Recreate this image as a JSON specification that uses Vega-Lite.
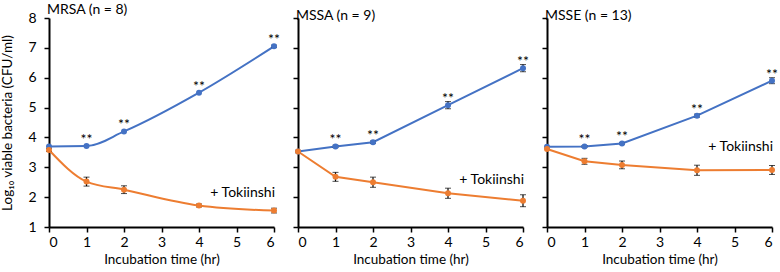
{
  "$schema": "https://vega.github.io/schema/vega-lite/v6.json",
  "padding": {"left": 0, "top": 3, "right": 2, "bottom": 1},
  "spacing": 24,
  "bounds": "flush",
  "config": {
    "font": "Lato",
    "view": {"stroke": null},
    "axis": {
      "grid": false,
      "domainColor": "black",
      "domainWidth": 2,
      "tickColor": "black",
      "tickWidth": 1.5,
      "tickSize": 5,
      "labelColor": "black",
      "labelFontSize": 14,
      "labelFont": "Lato",
      "titleColor": "black",
      "titleFontSize": 13.5,
      "titleFontWeight": "normal",
      "titleFont": "Lato"
    },
    "title": {"anchor": "start", "frame": "group", "fontSize": 14, "fontWeight": "normal", "font": "Lato", "color": "black", "offset": 2, "dy": 8, "dx": -2}
  },
  "data": {
    "values": [
      {"strain": "MRSA", "kind": "series", "group": "Control", "time": 0, "value": 3.7, "err": 0, "sig": ""},
      {"strain": "MRSA", "kind": "series", "group": "Control", "time": 1, "value": 3.71, "err": 0, "sig": "**"},
      {"strain": "MRSA", "kind": "series", "group": "Control", "time": 2, "value": 4.2, "err": 0, "sig": "**"},
      {"strain": "MRSA", "kind": "series", "group": "Control", "time": 4, "value": 5.5, "err": 0, "sig": "**"},
      {"strain": "MRSA", "kind": "series", "group": "Control", "time": 6, "value": 7.05, "err": 0.04, "sig": "**"},
      {"strain": "MRSA", "kind": "series", "group": "Tokiinshi", "time": 0, "value": 3.58, "err": 0.05, "sig": ""},
      {"strain": "MRSA", "kind": "series", "group": "Tokiinshi", "time": 1, "value": 2.52, "err": 0.15, "sig": ""},
      {"strain": "MRSA", "kind": "series", "group": "Tokiinshi", "time": 2, "value": 2.25, "err": 0.13, "sig": ""},
      {"strain": "MRSA", "kind": "series", "group": "Tokiinshi", "time": 4, "value": 1.72, "err": 0.05, "sig": ""},
      {"strain": "MRSA", "kind": "series", "group": "Tokiinshi", "time": 6, "value": 1.55, "err": 0.08, "sig": ""},
      {"strain": "MRSA", "kind": "label", "group": "Tokiinshi", "time": 6, "value": 2.13, "err": 0, "sig": "", "text": "+ Tokiinshi"},

      {"strain": "MSSA", "kind": "series", "group": "Control", "time": 0, "value": 3.53, "err": 0, "sig": ""},
      {"strain": "MSSA", "kind": "series", "group": "Control", "time": 1, "value": 3.7, "err": 0.04, "sig": "**"},
      {"strain": "MSSA", "kind": "series", "group": "Control", "time": 2, "value": 3.84, "err": 0.04, "sig": "**"},
      {"strain": "MSSA", "kind": "series", "group": "Control", "time": 4, "value": 5.08, "err": 0.12, "sig": "**"},
      {"strain": "MSSA", "kind": "series", "group": "Control", "time": 6, "value": 6.32, "err": 0.12, "sig": "**"},
      {"strain": "MSSA", "kind": "series", "group": "Tokiinshi", "time": 0, "value": 3.53, "err": 0, "sig": ""},
      {"strain": "MSSA", "kind": "series", "group": "Tokiinshi", "time": 1, "value": 2.68, "err": 0.15, "sig": ""},
      {"strain": "MSSA", "kind": "series", "group": "Tokiinshi", "time": 2, "value": 2.5, "err": 0.17, "sig": ""},
      {"strain": "MSSA", "kind": "series", "group": "Tokiinshi", "time": 4, "value": 2.13, "err": 0.17, "sig": ""},
      {"strain": "MSSA", "kind": "series", "group": "Tokiinshi", "time": 6, "value": 1.88, "err": 0.2, "sig": ""},
      {"strain": "MSSA", "kind": "label", "group": "Tokiinshi", "time": 6, "value": 2.57, "err": 0, "sig": "", "text": "+ Tokiinshi"},

      {"strain": "MSSE", "kind": "series", "group": "Control", "time": 0, "value": 3.69, "err": 0, "sig": ""},
      {"strain": "MSSE", "kind": "series", "group": "Control", "time": 1, "value": 3.7, "err": 0.03, "sig": "**"},
      {"strain": "MSSE", "kind": "series", "group": "Control", "time": 2, "value": 3.8, "err": 0.03, "sig": "**"},
      {"strain": "MSSE", "kind": "series", "group": "Control", "time": 4, "value": 4.73, "err": 0.05, "sig": "**"},
      {"strain": "MSSE", "kind": "series", "group": "Control", "time": 6, "value": 5.9, "err": 0.1, "sig": "**"},
      {"strain": "MSSE", "kind": "series", "group": "Tokiinshi", "time": 0, "value": 3.61, "err": 0, "sig": ""},
      {"strain": "MSSE", "kind": "series", "group": "Tokiinshi", "time": 1, "value": 3.2, "err": 0.1, "sig": ""},
      {"strain": "MSSE", "kind": "series", "group": "Tokiinshi", "time": 2, "value": 3.08, "err": 0.13, "sig": ""},
      {"strain": "MSSE", "kind": "series", "group": "Tokiinshi", "time": 4, "value": 2.9, "err": 0.17, "sig": ""},
      {"strain": "MSSE", "kind": "series", "group": "Tokiinshi", "time": 6, "value": 2.91, "err": 0.15, "sig": ""},
      {"strain": "MSSE", "kind": "label", "group": "Tokiinshi", "time": 6, "value": 3.68, "err": 0, "sig": "", "text": "+ Tokiinshi"}
    ]
  },
  "hconcat": [
    {
      "title": "MRSA (n = 8)",
      "width": 225, "height": 209,
      "transform": [{"filter": "datum.strain === 'MRSA'"}],
      "encoding": {
        "x": {"field": "time", "type": "quantitative", "scale": {"domain": [0, 6], "nice": false}, "axis": {"values": [0,1,2,3,4,5,6], "title": "Incubation time (hr)", "titlePadding": 3, "labelPadding": 3}},
        "y": {"field": "value", "type": "quantitative", "scale": {"domain": [1, 8], "nice": false, "zero": false}, "axis": {"values": [1,2,3,4,5,6,7,8], "title": "Log₁₀ viable bacteria (CFU/ml)", "titlePadding": 13, "labelPadding": 8}}
      },
      "layer": [
        {"transform": [{"filter": "datum.kind === 'series'"}], "mark": {"type": "line", "strokeWidth": 2, "interpolate": "monotone"}, "encoding": {"color": {"field": "group", "type": "nominal", "scale": {"domain": ["Control", "Tokiinshi"], "range": ["#4472C4", "#ED7D31"]}, "legend": null}}},
        {"transform": [{"filter": "datum.kind === 'series' && datum.err > 0"}], "mark": {"type": "errorbar", "ticks": {"size": 6, "color": "black"}, "rule": {"color": "black", "strokeWidth": 1.2}, "color": "black"}, "encoding": {"yError": {"field": "err"}}},
        {"transform": [{"filter": "datum.kind === 'series'"}], "mark": {"type": "circle", "size": 36, "opacity": 1}, "encoding": {"color": {"field": "group", "type": "nominal", "scale": {"domain": ["Control", "Tokiinshi"], "range": ["#4472C4", "#ED7D31"]}, "legend": null}}},
        {"transform": [{"filter": "datum.kind === 'series' && datum.sig !== ''"}], "mark": {"type": "text", "baseline": "alphabetic", "dy": -2, "fontSize": 14, "color": "black"}, "encoding": {"text": {"field": "sig"}}},
        {"transform": [{"filter": "datum.kind === 'label'"}], "mark": {"type": "text", "align": "right", "baseline": "middle", "fontSize": 14, "color": "black", "dx": 1}, "encoding": {"text": {"field": "text"}}}
      ]
    },
    {
      "title": "MSSA (n = 9)",
      "width": 225, "height": 209,
      "transform": [{"filter": "datum.strain === 'MSSA'"}],
      "encoding": {
        "x": {"field": "time", "type": "quantitative", "scale": {"domain": [0, 6], "nice": false}, "axis": {"values": [0,1,2,3,4,5,6], "title": "Incubation time (hr)", "titlePadding": 3, "labelPadding": 3}},
        "y": {"field": "value", "type": "quantitative", "scale": {"domain": [1, 8], "nice": false, "zero": false}, "axis": {"values": [1,2,3,4,5,6,7,8], "title": null, "labels": false}}
      },
      "layer": [
        {"transform": [{"filter": "datum.kind === 'series'"}], "mark": {"type": "line", "strokeWidth": 2}, "encoding": {"color": {"field": "group", "type": "nominal", "scale": {"domain": ["Control", "Tokiinshi"], "range": ["#4472C4", "#ED7D31"]}, "legend": null}}},
        {"transform": [{"filter": "datum.kind === 'series' && datum.err > 0"}], "mark": {"type": "errorbar", "ticks": {"size": 6, "color": "black"}, "rule": {"color": "black", "strokeWidth": 1.2}, "color": "black"}, "encoding": {"yError": {"field": "err"}}},
        {"transform": [{"filter": "datum.kind === 'series'"}], "mark": {"type": "circle", "size": 36, "opacity": 1}, "encoding": {"color": {"field": "group", "type": "nominal", "scale": {"domain": ["Control", "Tokiinshi"], "range": ["#4472C4", "#ED7D31"]}, "legend": null}}},
        {"transform": [{"filter": "datum.kind === 'series' && datum.sig !== ''"}], "mark": {"type": "text", "baseline": "alphabetic", "dy": -2, "fontSize": 14, "color": "black"}, "encoding": {"text": {"field": "sig"}}},
        {"transform": [{"filter": "datum.kind === 'label'"}], "mark": {"type": "text", "align": "right", "baseline": "middle", "fontSize": 14, "color": "black", "dx": 1}, "encoding": {"text": {"field": "text"}}}
      ]
    },
    {
      "title": "MSSE (n = 13)",
      "width": 225, "height": 209,
      "transform": [{"filter": "datum.strain === 'MSSE'"}],
      "encoding": {
        "x": {"field": "time", "type": "quantitative", "scale": {"domain": [0, 6], "nice": false}, "axis": {"values": [0,1,2,3,4,5,6], "title": "Incubation time (hr)", "titlePadding": 3, "labelPadding": 3}},
        "y": {"field": "value", "type": "quantitative", "scale": {"domain": [1, 8], "nice": false, "zero": false}, "axis": {"values": [1,2,3,4,5,6,7,8], "title": null, "labels": false}}
      },
      "layer": [
        {"transform": [{"filter": "datum.kind === 'series'"}], "mark": {"type": "line", "strokeWidth": 2}, "encoding": {"color": {"field": "group", "type": "nominal", "scale": {"domain": ["Control", "Tokiinshi"], "range": ["#4472C4", "#ED7D31"]}, "legend": null}}},
        {"transform": [{"filter": "datum.kind === 'series' && datum.err > 0"}], "mark": {"type": "errorbar", "ticks": {"size": 6, "color": "black"}, "rule": {"color": "black", "strokeWidth": 1.2}, "color": "black"}, "encoding": {"yError": {"field": "err"}}},
        {"transform": [{"filter": "datum.kind === 'series'"}], "mark": {"type": "circle", "size": 36, "opacity": 1}, "encoding": {"color": {"field": "group", "type": "nominal", "scale": {"domain": ["Control", "Tokiinshi"], "range": ["#4472C4", "#ED7D31"]}, "legend": null}}},
        {"transform": [{"filter": "datum.kind === 'series' && datum.sig !== ''"}], "mark": {"type": "text", "baseline": "alphabetic", "dy": -2, "fontSize": 14, "color": "black"}, "encoding": {"text": {"field": "sig"}}},
        {"transform": [{"filter": "datum.kind === 'label'"}], "mark": {"type": "text", "align": "right", "baseline": "middle", "fontSize": 14, "color": "black", "dx": 1}, "encoding": {"text": {"field": "text"}}}
      ]
    }
  ]
}
